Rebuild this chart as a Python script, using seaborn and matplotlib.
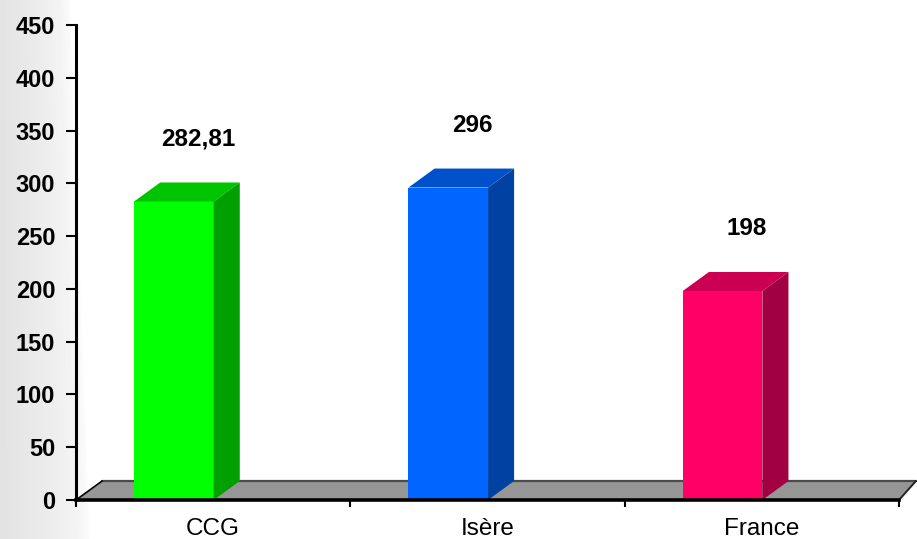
import numpy as np
import matplotlib
matplotlib.use("Agg")
import matplotlib.pyplot as plt
from matplotlib.patches import Polygon
import seaborn as sns

# data
categories = ["CCG", "Isère", "France"]
values = [282.81, 296, 198]
front_colors = ["#00FF00", "#0066FF", "#FF0066"]
top_colors = ["#00C400", "#0050CC", "#CC0052"]
side_colors = ["#00A000", "#0042A2", "#A20042"]
yticks = [0, 50, 100, 150, 200, 250, 300, 350, 400, 450]

sns.set_style("white")
plt.rcParams['font.family'] = ['Liberation Sans', 'DejaVu Sans']
plt.rcParams['text.color'] = 'black'
plt.rcParams['xtick.color'] = 'black'
plt.rcParams['ytick.color'] = 'black'

fig = plt.figure(figsize=(9.17, 5.39), dpi=100)

# soft grey shade on the left edge
bg = fig.add_axes([0, 0, 1, 1], zorder=-5)
xx, yy = np.meshgrid(np.arange(917), np.arange(539))
edge = 25 + 20 * (yy / 539.0)
shade = np.clip(1 - xx / (edge + 45), 0, 1) ** 0.5
img = 1 - 0.11 * shade
bg.imshow(img, cmap="gray", vmin=0, vmax=1, extent=[0, 917, 539, 0], aspect="auto")
bg.axis("off")

ax = fig.add_axes([76 / 917, 39 / 539, 823 / 917, 475 / 539])
ax.patch.set_alpha(0)

sns.barplot(x=categories, y=values, hue=categories, palette=front_colors,
            width=0.29, saturation=1, linewidth=0, legend=False, ax=ax, zorder=3)

x0, x1 = -0.357, 2.643
dx, dy = 0.095, 18
ax.set_xlim(x0, x1)
ax.set_ylim(0, 450)

# grey floor
floor = Polygon([(x0, 0), (x1, 0), (x1 + dx * 0.65, dy), (x0 + dx, dy)],
                closed=True, facecolor="#969696", edgecolor="none",
                zorder=1, clip_on=False)
ax.add_patch(floor)
ax.plot([x0 + dx, x1 + dx * 0.65], [dy, dy], color="#4a4a4a", lw=1.6,
        zorder=1.5, clip_on=False)
ax.plot([x0, x0 + dx], [0, dy], color="black", lw=1.2, zorder=1.5, clip_on=False)
ax.plot([x1, x1 + dx * 0.65], [0, dy], color="#222222", lw=1.4, zorder=1.5, clip_on=False)

# 3D faces for each bar
for i, bar in enumerate(ax.patches[:len(values)]):
    bx = bar.get_x()
    bw = bar.get_width()
    h = bar.get_height()
    top = Polygon([(bx, h), (bx + bw, h), (bx + bw + dx, h + dy), (bx + dx, h + dy)],
                  closed=True, facecolor=top_colors[i], edgecolor="none", zorder=3)
    side = Polygon([(bx + bw, 0), (bx + bw + dx, dy), (bx + bw + dx, h + dy), (bx + bw, h)],
                   closed=True, facecolor=side_colors[i], edgecolor="none", zorder=3)
    ax.add_patch(top)
    ax.add_patch(side)
    label = f"{h:g}".replace(".", ",")
    ax.text(bx + bw / 2 + 0.088, h + 59, label, ha="center", va="center",
            fontsize=17.5, fontweight="bold", color="black", clip_on=False)

# axes styling
sns.despine(ax=ax)
ax.spines["left"].set_linewidth(2.2)
ax.spines["bottom"].set_linewidth(2.6)
ax.spines["left"].set_color("black")
ax.spines["bottom"].set_color("black")
ax.spines["left"].set_zorder(4)
ax.spines["bottom"].set_zorder(4)

ax.set_yticks(yticks)
ax.set_yticklabels([str(t) for t in yticks], fontsize=17, fontweight="bold")
ax.tick_params(axis="y", direction="out", length=7, width=1.5, pad=8, left=True)

bounds = [x0, x0 + 1, x0 + 2, x1]
ax.set_xticks(bounds, labels=["", "", "", ""])
ax.set_xticks([i + 0.143 for i in range(len(categories))], labels=categories, minor=True)
ax.tick_params(axis="x", which="major", direction="out", length=5, width=1.5, bottom=True)
ax.tick_params(axis="x", which="minor", length=0, pad=13, labelsize=17.5)
ax.set_xlabel("")
ax.set_ylabel("")

fig.savefig("out.png", dpi=100)
